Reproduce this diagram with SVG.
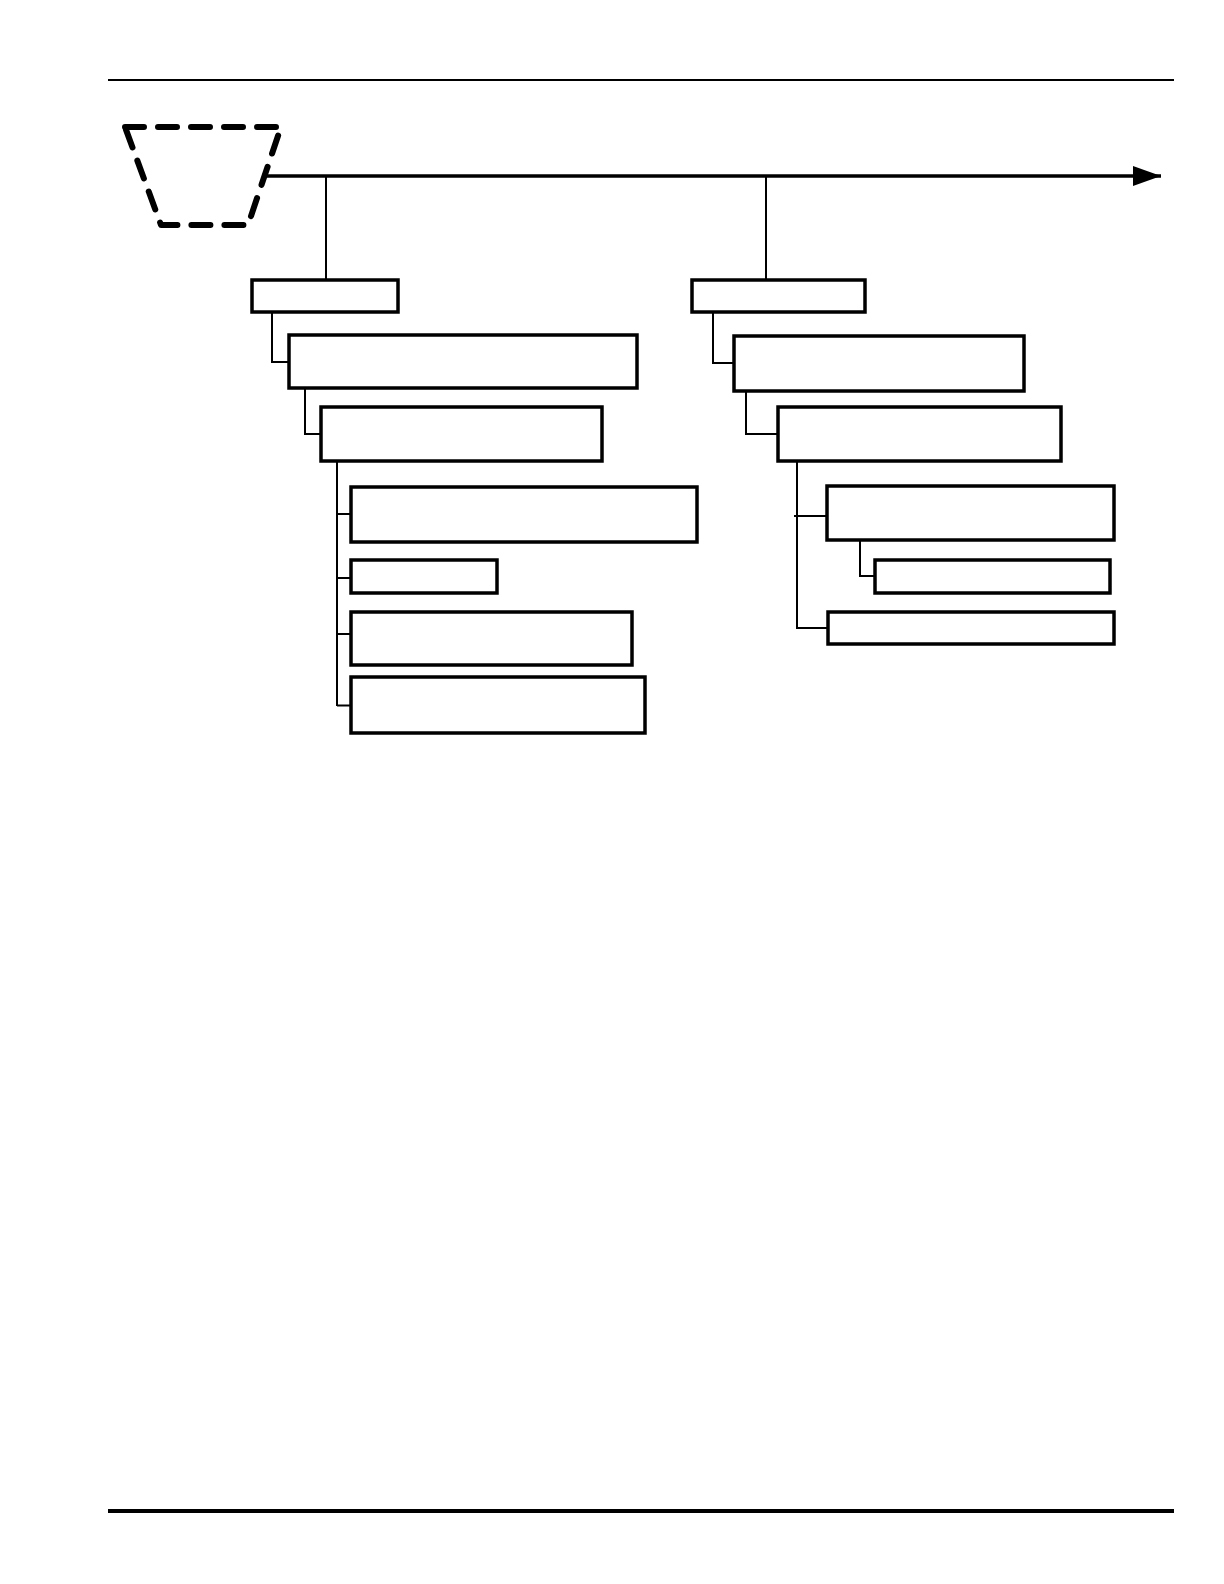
<svg xmlns="http://www.w3.org/2000/svg" width="1224" height="1584" viewBox="0 0 1224 1584">
<style>
.box{fill:#fff;stroke:#000;stroke-width:3.5}
.conn{fill:none;stroke:#000;stroke-width:2}
.rule{stroke:#000}
</style>
<defs>
<marker id="arr" markerUnits="userSpaceOnUse" markerWidth="30" markerHeight="22" refX="28" refY="10" orient="auto">
<path d="M0,0 L28,10 L0,20 Z" fill="#000"/>
</marker>
</defs>
<rect width="1224" height="1584" fill="#fff"/>
<line class="rule" x1="108" y1="80" x2="1174" y2="80" stroke-width="2"/>
<line class="rule" x1="108" y1="1511" x2="1174" y2="1511" stroke-width="4"/>
<g id="source">
<path d="M125,127 L281,127 L248,225 L161,225 Z" fill="none" stroke="#000" stroke-width="6" stroke-dasharray="19,14" stroke-linecap="round" stroke-linejoin="round"/>
</g>
<g id="connectors">
<line x1="266" y1="176" x2="1161" y2="176" stroke="#000" stroke-width="3.5" marker-end="url(#arr)"/>
<line class="conn" x1="326" y1="176" x2="326" y2="280"/>
<line class="conn" x1="766" y1="176" x2="766" y2="280"/>
<polyline class="conn" points="272,312 272,362 289,362"/>
<polyline class="conn" points="305,388 305,434 321,434"/>
<polyline class="conn" points="337,461 337,706"/>
<line class="conn" x1="337" y1="514" x2="351" y2="514"/>
<line class="conn" x1="337" y1="578" x2="351" y2="578"/>
<line class="conn" x1="337" y1="634" x2="351" y2="634"/>
<polyline class="conn" points="337,705.5 351,705.5"/>
<polyline class="conn" points="713,312 713,363 734,363"/>
<polyline class="conn" points="746,391 746,434 778,434"/>
<polyline class="conn" points="797,461 797,628 828,628"/>
<line class="conn" x1="794" y1="516" x2="827" y2="516"/>
<polyline class="conn" points="860,540 860,576 875,576"/>
</g>
<g id="L1"><rect class="box" x="252" y="280" width="146" height="32"/></g>
<g id="L2"><rect class="box" x="289" y="335" width="348" height="53"/></g>
<g id="L3"><rect class="box" x="321" y="407" width="281" height="54"/></g>
<g id="L4"><rect class="box" x="351" y="487" width="346" height="55"/></g>
<g id="L5"><rect class="box" x="351" y="560" width="146" height="33"/></g>
<g id="L6"><rect class="box" x="351" y="612" width="281" height="53"/></g>
<g id="L7"><rect class="box" x="351" y="677" width="294" height="56"/></g>
<g id="R1"><rect class="box" x="692" y="280" width="173" height="32"/></g>
<g id="R2"><rect class="box" x="734" y="336" width="290" height="55"/></g>
<g id="R3"><rect class="box" x="778" y="407" width="283" height="54"/></g>
<g id="R4"><rect class="box" x="827" y="486" width="287" height="54"/></g>
<g id="R5"><rect class="box" x="875" y="560" width="235" height="33"/></g>
<g id="R6"><rect class="box" x="828" y="612" width="286" height="32"/></g>
</svg>
